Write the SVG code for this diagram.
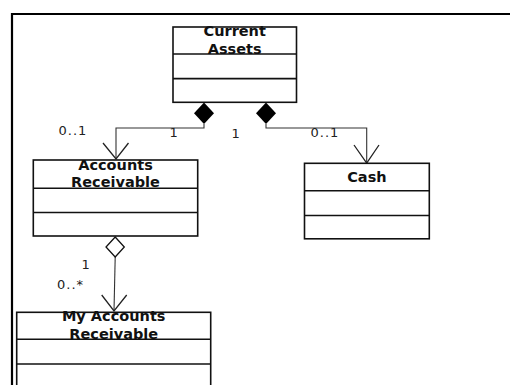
<svg xmlns="http://www.w3.org/2000/svg" width="510" height="385" viewBox="0 0 510 385">
  <style>
    .box { fill: #fff; stroke: #111; stroke-width: 1.6; }
    .div { stroke: #111; stroke-width: 1.6; }
    .title { font-family: "DejaVu Sans", Verdana, sans-serif; font-weight: bold; font-size: 14.5px; fill: #111; text-anchor: middle; }
    .mult { font-family: "DejaVu Sans", Verdana, sans-serif; font-size: 13px; fill: #222; letter-spacing: 1px; }
    .conn { fill: none; stroke: #333; stroke-width: 1.1; }
    .head { fill: none; stroke: #222; stroke-width: 1.3; }
    .frame { fill: none; stroke: #000; stroke-width: 2.2; }
  </style>

  <!-- outer frame -->
  <path class="frame" d="M12 386 V14 H511"/>

  <g id="connectors">
    <!-- Current Assets composes Accounts Receivable -->
    <path class="conn" d="M204 124 V128 H116 V159"/>
    <polygon points="204,102.5 214,113.3 204,124 194,113.3" fill="#000"/>
    <path class="head" d="M103 143 L116 159 L128.5 143"/>
    <!-- Current Assets composes Cash -->
    <path class="conn" d="M266 124 V128 H366.7 V163"/>
    <polygon points="266,102.5 276,113.3 266,124 256,113.3" fill="#000"/>
    <path class="head" d="M354 145 L366.7 163 L379 145"/>
    <!-- Accounts Receivable aggregates My Accounts Receivable -->
    <path class="conn" d="M115.2 257 L114 311"/>
    <polygon points="115.2,237 124.3,247 115.2,257 106,247" fill="#fff" stroke="#111" stroke-width="1.3"/>
    <path class="head" d="M101.7 295 L114 311 L126.7 295"/>

    <!-- multiplicities -->
    <text class="mult" x="58.5" y="135">0..1</text>
    <text class="mult" x="169.5" y="137">1</text>
    <text class="mult" x="231.5" y="137.5">1</text>
    <text class="mult" x="310.5" y="137">0..1</text>
    <text class="mult" x="81.5" y="269">1</text>
    <text class="mult" x="57" y="288.5">0..*</text>
  </g>

  <g id="current-assets">
    <rect class="box" x="173" y="27" width="123.5" height="75.3"/>
    <line class="div" x1="173" y1="54" x2="296.5" y2="54"/>
    <line class="div" x1="173" y1="78.6" x2="296.5" y2="78.6"/>
    <text class="title" x="234.7" y="36">Current</text>
    <text class="title" x="234.7" y="53.5">Assets</text>
  </g>

  <g id="accounts-receivable">
    <rect class="box" x="33.3" y="160" width="164.4" height="76"/>
    <line class="div" x1="33.3" y1="188.3" x2="197.7" y2="188.3"/>
    <line class="div" x1="33.3" y1="212.5" x2="197.7" y2="212.5"/>
    <text class="title" x="115.5" y="169.5">Accounts</text>
    <text class="title" x="115.5" y="187">Receivable</text>
  </g>

  <g id="cash">
    <rect class="box" x="304.5" y="163.3" width="124.8" height="75.5"/>
    <line class="div" x1="304.5" y1="190.7" x2="429.3" y2="190.7"/>
    <line class="div" x1="304.5" y1="215.5" x2="429.3" y2="215.5"/>
    <text class="title" x="366.9" y="181.7">Cash</text>
  </g>

  <g id="my-accounts-receivable">
    <rect class="box" x="16.7" y="312.3" width="194" height="90"/>
    <line class="div" x1="16.7" y1="339.3" x2="210.7" y2="339.3"/>
    <line class="div" x1="16.7" y1="364" x2="210.7" y2="364"/>
    <text class="title" x="113.7" y="321">My Accounts</text>
    <text class="title" x="113.7" y="338.5">Receivable</text>
  </g>
</svg>
